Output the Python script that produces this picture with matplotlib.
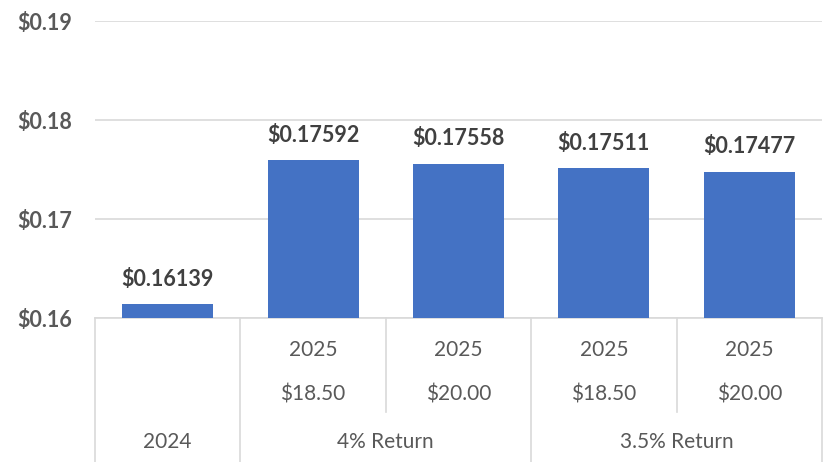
import numpy as np
import matplotlib.pyplot as plt

plt.rcParams['font.family'] = ['Lato', 'DejaVu Sans']

# cost per unit for each scenario
years = ["2024", "2025", "2025", "2025", "2025"]
prices = ["", "$18.50", "$20.00", "$18.50", "$20.00"]
groups = ["2024", "4% Return", "3.5% Return"]
group_spans = [(0, 0), (1, 2), (3, 4)]
values = [0.16139, 0.17592, 0.17558, 0.17511, 0.17477]

bar_color = "#4472C4"
grid_color = "#D9D9D9"
label_color = "#595959"
value_color = "#404040"

fig = plt.figure(figsize=(8.23, 4.62), dpi=100)
ax = fig.add_axes([95 / 823, 1 - 318 / 462, 727 / 823, 297 / 462])

x = np.arange(len(values))
ax.bar(x, np.array(values) - 0.16, bottom=0.16, width=0.625, color=bar_color, zorder=3)

for xi, v in zip(x, values):
    ax.annotate(f"${v:.5f}", (xi, v), xytext=(0, 10.5), textcoords="offset points",
                ha="center", va="bottom", fontsize=15.5, fontweight="bold", color=value_color)

ax.set_xlim(-0.5, len(values) - 0.5)
ax.set_ylim(0.16, 0.19)
ax.set_yticks([0.16, 0.17, 0.18, 0.19])
ax.set_yticklabels([f"${t:.2f}" for t in [0.16, 0.17, 0.18, 0.19]],
                   fontsize=15.5, fontweight="bold", color=label_color)
ax.tick_params(axis="y", length=0, pad=16.5)
ax.tick_params(axis="x", length=0, labelbottom=False)
ax.yaxis.grid(True, color=grid_color, linewidth=1.2, zorder=0)
for s in ax.spines.values():
    s.set_visible(False)

# multi-level category axis below the plot
tr = ax.get_xaxis_transform()
ax.plot([-0.5, len(values) - 0.5], [0, 0], transform=tr, color=grid_color, lw=1.2, clip_on=False)
row_year, row_price, row_group = -0.108, -0.259, -0.418
for xi in x:
    if years[xi] and xi > 0:
        ax.text(xi, row_year, years[xi], transform=tr, ha="center", va="center",
                fontsize=15, color=label_color)
    if prices[xi]:
        ax.text(xi, row_price, prices[xi], transform=tr, ha="center", va="center",
                fontsize=15, color=label_color)
for name, (a, b) in zip(groups, group_spans):
    ax.text((a + b) / 2, row_group, name, transform=tr, ha="center", va="center",
            fontsize=15, color=label_color)
    ax.plot([a - 0.5, a - 0.5], [0, -0.485], transform=tr, color=grid_color, lw=1.2, clip_on=False)
    for k in range(a + 1, b + 1):
        ax.plot([k - 0.5, k - 0.5], [0, -0.316], transform=tr, color=grid_color, lw=1.2, clip_on=False)
ax.plot([len(values) - 0.5] * 2, [0, -0.485], transform=tr, color=grid_color, lw=1.2, clip_on=False)

plt.savefig("out.png", dpi=100)
